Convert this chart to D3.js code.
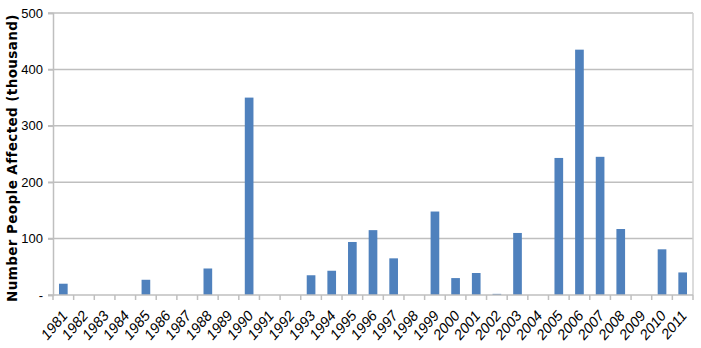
<!DOCTYPE html>
<html>
<head>
<meta charset="utf-8">
<script src="https://cdn.jsdelivr.net/npm/d3@7"></script>
<style>
    body { margin: 0; background: #fff; }
    svg { display: block; }
</style>
</head>
<body>
<div id="chart"></div>
<script>
// data
const years = ["1981", "1982", "1983", "1984", "1985", "1986", "1987", "1988", "1989", "1990",
    "1991", "1992", "1993", "1994", "1995", "1996", "1997", "1998", "1999", "2000",
    "2001", "2002", "2003", "2004", "2005", "2006", "2007", "2008", "2009", "2010", "2011"];
const affected = [20, 0, 0, 0, 27, 0, 0, 47, 0, 350,
    0, 0, 35, 43, 94, 115, 65, 0, 148, 30,
    39, 2, 110, 0, 243, 435, 245, 117, 0, 81, 40];
const yTicks = [0, 100, 200, 300, 400, 500];

const totalW = 701, totalH = 348;
const margin = {top: 13, right: 8, bottom: 53, left: 53};
const width = totalW - margin.left - margin.right;
const height = totalH - margin.top - margin.bottom;

const svg = d3.select("#chart")
    .append("svg")
    .attr("width", totalW)
    .attr("height", totalH);

const g = svg.append("g")
    .attr("transform", "translate(" + margin.left + "," + margin.top + ")");

const x = d3.scaleBand()
    .domain(years)
    .range([0, width])
    .paddingInner(0.58)
    .paddingOuter(0.29);

const y = d3.scaleLinear()
    .domain([0, 500])
    .range([height, 0]);

// gridlines
g.selectAll(".grid")
    .data(yTicks.filter(d => d > 0))
    .enter()
    .append("line")
    .attr("x1", -5)
    .attr("x2", width)
    .attr("y1", d => y(d))
    .attr("y2", d => y(d))
    .attr("stroke", "#bfbfbf")
    .attr("stroke-width", 1.5);

// plot area border right
g.append("line")
    .attr("x1", width).attr("x2", width)
    .attr("y1", 0).attr("y2", height)
    .attr("stroke", "#d0d0d0")
    .attr("stroke-width", 1.5);

// bars
g.selectAll(".bar")
    .data(affected)
    .enter()
    .append("rect")
    .attr("class", "bar")
    .attr("x", (d, i) => x(years[i]))
    .attr("y", d => y(d))
    .attr("width", x.bandwidth())
    .attr("height", d => height - y(d))
    .attr("fill", "#4f81bd");

// y axis
const yAxis = g.append("g")
    .call(d3.axisLeft(y)
        .tickValues(yTicks)
        .tickSize(5)
        .tickPadding(5)
        .tickFormat(d => d === 0 ? "-" : d));
yAxis.select(".domain").attr("stroke", "#bfbfbf").attr("stroke-width", 1.5);
yAxis.selectAll(".tick line").attr("stroke", "#bfbfbf").attr("stroke-width", 1.5);
yAxis.selectAll("text")
    .attr("font-family", "'Liberation Sans Narrow', 'Arial Narrow', sans-serif")
    .attr("font-size", "13px")
    .attr("fill", "#000");

// x axis with ticks between categories
const step = x.step();
g.append("line")
    .attr("x1", -5).attr("x2", width)
    .attr("y1", height).attr("y2", height)
    .attr("stroke", "#bfbfbf")
    .attr("stroke-width", 1.5);

g.selectAll(".xtick")
    .data(d3.range(years.length + 1))
    .enter()
    .append("line")
    .attr("x1", i => i * step)
    .attr("x2", i => i * step)
    .attr("y1", height)
    .attr("y2", height + 5)
    .attr("stroke", "#bfbfbf")
    .attr("stroke-width", 1.5);

g.selectAll(".xlabel")
    .data(years)
    .enter()
    .append("text")
    .attr("transform", d => "translate(" + (x(d) + x.bandwidth() / 2 + 5) + "," + (height + 21) + ") rotate(-50)")
    .attr("text-anchor", "end")
    .attr("font-family", "'Liberation Sans Narrow', 'Arial Narrow', sans-serif")
    .attr("font-size", "14.5px")
    .attr("font-style", "italic")
    .attr("fill", "#000")
    .text(d => d);

// y axis title
svg.append("text")
    .attr("transform", "translate(17," + (margin.top + 145) + ") rotate(-90)")
    .attr("text-anchor", "middle")
    .attr("font-family", "'DejaVu Sans', Verdana, sans-serif")
    .attr("font-weight", "bold")
    .attr("font-size", "13.5px")
    .attr("letter-spacing", "0.4px")
    .attr("fill", "#000")
    .text("Number People Affected (thousand)");
</script>
</body>
</html>
